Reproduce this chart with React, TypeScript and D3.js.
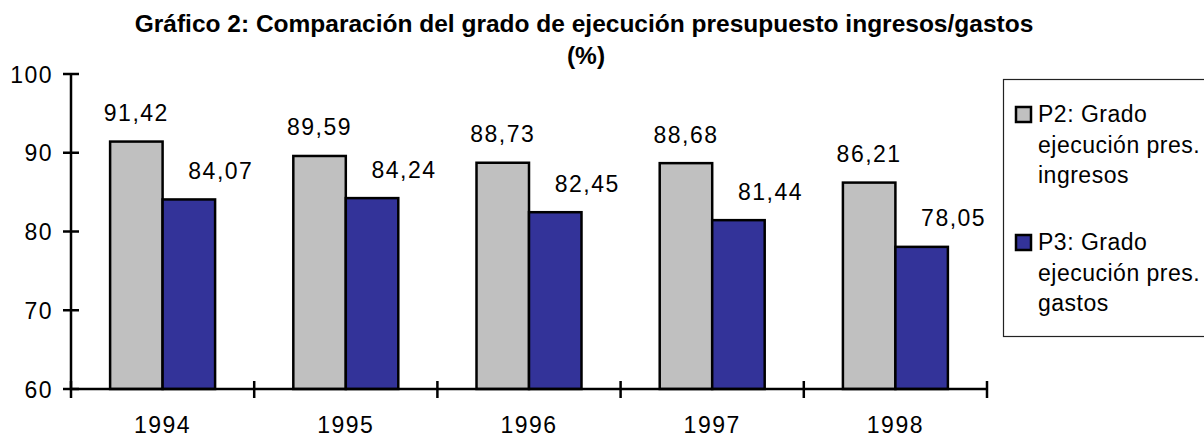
import React from "react";
import * as d3 from "d3";

// Data
const years = ["1994", "1995", "1996", "1997", "1998"];
const ingresos = [91.42, 89.59, 88.73, 88.68, 86.21];
const gastos = [84.07, 84.24, 82.45, 81.44, 78.05];
const yTicks = [60, 70, 80, 90, 100];
const seriesKeys = ["ingresos", "gastos"];
const legendLines = [
  ["P2: Grado", "ejecución pres.", "ingresos"],
  ["P3: Grado", "ejecución pres.", "gastos"],
];
const colors = ["#C0C0C0", "#333399"];

const W = 1204;
const H = 437;
const font = "'Liberation Sans', Arial, Helvetica, sans-serif";

const fmt = (v: number) => v.toFixed(2).replace(".", ",");

const App = () => {
  const x = d3.scaleBand().domain(years).range([71, 987]).padding(0);
  const y = d3.scaleLinear().domain([60, 100]).range([389, 74]);
  const inner = d3
    .scaleBand()
    .domain(seriesKeys)
    .range([0, x.bandwidth()])
    .paddingInner(0)
    .paddingOuter(0.745);

  const rows = years.map((yr, i) => ({ year: yr, ingresos: ingresos[i], gastos: gastos[i] }));
  const xTickPos = [...years.map((yr) => x(yr) as number), 987];

  return (
    <svg width={W} height={H} style={{ display: "block", position: "absolute", left: 0, top: 0 }}>
      <rect width={W} height={H} fill="#fff" />
      {/* title */}
      <text x={584} y={32} textAnchor="middle" fontFamily={font} fontWeight="bold" fontSize={24.5}>
        Gráfico 2: Comparación del grado de ejecución presupuesto ingresos/gastos
      </text>
      <text x={586} y={64} textAnchor="middle" fontFamily={font} fontWeight="bold" fontSize={24.5}>
        (%)
      </text>

      {/* bars */}
      {rows.map((r) =>
        seriesKeys.map((k, si) => {
          const v = (r as any)[k] as number;
          const bx = (x(r.year) as number) + (inner(k) as number);
          const bw = inner.bandwidth();
          return (
            <g key={r.year + k}>
              <rect x={bx} y={y(v)} width={bw} height={y(60) - y(v)} fill={colors[si]} stroke="#000" strokeWidth={2.5} />
              <text
                x={bx + bw / 2 + (si === 1 ? 32 : 0)}
                y={y(v) - 20.5}
                textAnchor="middle"
                fontFamily={font}
                fontSize={23}
                letterSpacing={1.5}
              >
                {fmt(v)}
              </text>
            </g>
          );
        })
      )}

      {/* y axis */}
      <line x1={71} x2={71} y1={y(100)} y2={y(60)} stroke="#000" strokeWidth={2.5} />
      {yTicks.map((t) => (
        <g key={t}>
          <line x1={63} x2={79} y1={y(t)} y2={y(t)} stroke="#000" strokeWidth={2.5} />
          <text x={53} y={y(t) + 8.5} textAnchor="end" fontFamily={font} fontSize={23} letterSpacing={1.5}>
            {t}
          </text>
        </g>
      ))}

      {/* x axis */}
      <line x1={71} x2={987} y1={y(60)} y2={y(60)} stroke="#000" strokeWidth={2.5} />
      {xTickPos.map((p, i) => (
        <line key={i} x1={p} x2={p} y1={381} y2={398} stroke="#000" strokeWidth={2.5} />
      ))}
      {years.map((yr) => (
        <text
          key={yr}
          x={(x(yr) as number) + x.bandwidth() / 2}
          y={433}
          textAnchor="middle"
          fontFamily={font}
          fontSize={23}
          letterSpacing={1.5}
        >
          {yr}
        </text>
      ))}

      {/* legend */}
      <rect x={1003.5} y={79.5} width={210} height={257} fill="#fff" stroke="#222" strokeWidth={1.2} />
      {legendLines.map((lines, li) => {
        const top = li === 0 ? 122 : 250;
        return (
          <g key={li}>
            <rect x={1016} y={top - 15} width={15} height={15} fill={colors[li]} stroke="#000" strokeWidth={2.5} />
            {lines.map((s, j) => (
              <text key={j} x={1038} y={top + j * 30.5} fontFamily={font} fontSize={23} letterSpacing={0.5}>
                {s}
              </text>
            ))}
          </g>
        );
      })}
    </svg>
  );
};

export default App;
